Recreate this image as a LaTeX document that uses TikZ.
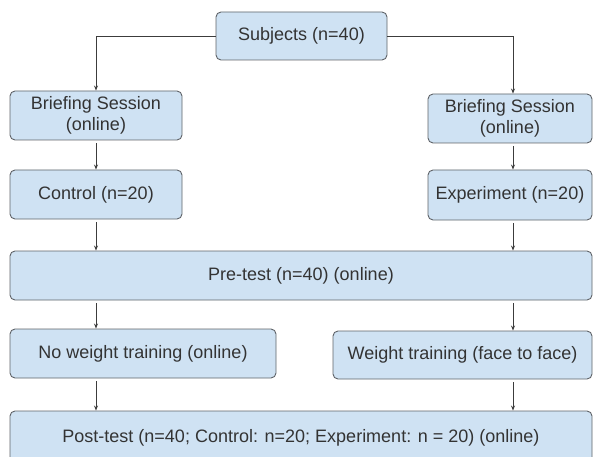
\documentclass[tikz,border=0pt]{standalone}
\usepackage{fontspec}
\setmainfont{Liberation Sans}
\usetikzlibrary{arrows.meta}
\definecolor{boxfill}{HTML}{CFE2F3}
\definecolor{boxline}{HTML}{5F6368}
\definecolor{txt}{HTML}{333333}
\definecolor{lin}{HTML}{3C3C3C}
\tikzset{
  box/.style={draw=boxline, line width=0.9pt, fill=boxfill, rounded corners=5pt,
    align=center, inner sep=0pt, text=txt,
    font=\fontsize{18}{21}\selectfont},
  arr/.style={draw=lin, line width=0.8pt, -{Stealth[length=5pt,width=4pt]}}
}
\begin{document}
\begin{tikzpicture}[x=1pt,y=1pt]
\useasboundingbox (0,0) rectangle (594,-457);
\clip (0,0) rectangle (594,-457);
\node[box, minimum width=171pt, minimum height=48pt] (subj) at (301.5,-36) {Subjects (n=40)};
\node[box, minimum width=172pt, minimum height=49pt] (b1) at (96,-115.5) {Briefing Session\\(online)};
\node[box, minimum width=164pt, minimum height=49pt] (b2) at (510,-118.5) {Briefing Session\\(online)};
\node[box, minimum width=172pt, minimum height=49pt] (ctrl) at (96,-194.5) {Control (n=20)};
\node[box, minimum width=164pt, minimum height=50pt] (exp) at (510,-195) {Experiment (n=20)};
\node[box, minimum width=582pt, minimum height=49pt] (pre) at (301,-275.5) {Pre-test (n=40) (online)};
\node[box, minimum width=266pt, minimum height=49pt] (now) at (143,-353.5) {No weight training (online)};
\node[box, minimum width=259pt, minimum height=48pt] (wt) at (462.5,-355) {Weight training (face to face)};
\node[box, minimum width=582pt, minimum height=54pt] (post) at (301,-438) {Post-test (n=40; Control: n=20; Experiment: n = 20) (online)};
\coordinate (lx) at (96,0);
\coordinate (rx) at (513,0);
% top branches
\draw[arr] (subj.west) -| (b1.north);
\draw[arr] (subj.east) -| (b2.north -| rx);
% column arrows
\draw[arr] ([yshift=-3pt]b1.south) -- (ctrl.north);
\draw[arr] ([yshift=-3pt]b2.south -| rx) -- (exp.north -| rx);
\draw[arr] ([yshift=-3pt]ctrl.south) -- (pre.north -| lx);
\draw[arr] ([yshift=-3pt]exp.south -| rx) -- (pre.north -| rx);
\draw[arr] ([yshift=-3pt]pre.south -| lx) -- (now.north -| lx);
\draw[arr] ([yshift=-3pt]pre.south -| rx) -- (wt.north -| rx);
\draw[arr] ([yshift=-3pt]now.south -| lx) -- (post.north -| lx);
\draw[arr] ([yshift=-3pt]wt.south -| rx) -- (post.north -| rx);
\end{tikzpicture}
\end{document}
